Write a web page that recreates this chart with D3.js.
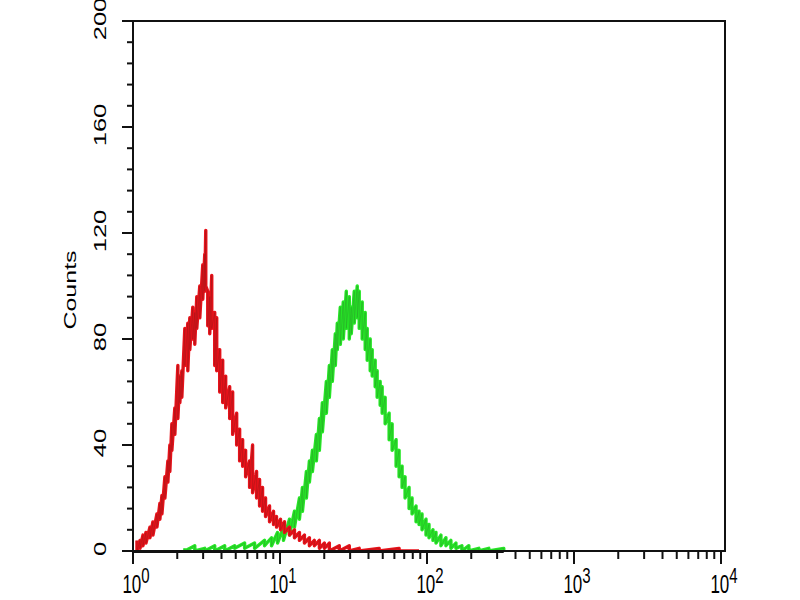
<!DOCTYPE html>
<html>
<head>
<meta charset="utf-8">
<script src="https://cdn.jsdelivr.net/npm/d3@7"></script>
<style>
  body { margin: 0; background: #fff; }
  text { font-family: "Liberation Sans", Arial, sans-serif; fill: #000; }
</style>
</head>
<body>
<div id="root"></div>
<script>
// fluorescence channel (log axis) and the low / high edge of the noisy trace at that channel
var redX = [1.064, 1.116, 1.169, 1.225, 1.304, 1.366, 1.455, 1.524, 1.573, 1.648,
            1.727, 1.781, 1.838, 1.926, 2.019, 2.083, 2.149, 2.252, 2.360, 2.435,
            2.551, 2.632, 2.716, 2.846, 2.983, 3.077, 3.126, 3.225, 3.327, 3.433,
            3.597, 3.711, 3.889, 4.076, 4.271, 4.546, 4.764, 5.072, 5.314, 5.569,
            5.836, 6.212, 6.510, 6.929, 7.261, 7.609, 7.974, 8.488, 9.035, 9.469,
            10.08, 10.73, 11.60, 12.54, 13.56, 14.66, 15.85, 17.13, 18.53, 20.03,
            21.66, 25.32, 29.60, 34.59, 47.28, 64.60, 88.28];
var redLo = [0, 1, 2, 3, 5, 6, 9, 12, 14, 20,
             26, 30, 38, 44, 50, 56, 58, 70, 68, 76,
             80, 78, 84, 88, 95, 98, 100, 85, 82, 84,
             70, 68, 60, 56, 54, 50, 44, 40, 34, 32,
             28, 24, 22, 20, 17, 15, 13, 11, 10, 9,
             8, 7, 6, 5, 4, 3, 2, 2, 1, 1,
             0, 0, 0, 0, 0, 0, 0];
var redHi = [4, 4, 6, 7, 9, 11, 14, 18, 21, 28,
             34, 40, 48, 54, 70, 66, 68, 84, 86, 88,
             92, 90, 96, 100, 108, 112, 121, 98, 96, 104,
             90, 88, 76, 72, 66, 62, 60, 52, 46, 42,
             38, 34, 40, 30, 27, 24, 20, 17, 15, 13,
             12, 11, 9, 8, 7, 6, 5, 4, 4, 3,
             3, 2, 2, 1, 1, 1, 0];

var greenX = [2.252, 2.632, 3.077, 3.597, 4.205, 4.916, 5.745, 6.716, 7.850, 8.757,
              9.618, 10.56, 11.60, 12.54, 13.56, 14.21, 15.12, 15.85, 16.61, 17.68,
              18.53, 19.42, 20.67, 21.66, 22.70, 23.79, 24.54, 25.72, 26.95, 28.24,
              29.60, 30.53, 32.00, 33.53, 34.59, 36.25, 37.99, 39.20, 41.08, 42.38,
              44.41, 45.81, 48.02, 49.54, 51.92, 55.26, 57.91, 61.63, 64.60, 67.70,
              70.94, 75.51, 79.13, 84.22, 88.28, 92.50, 98.45, 103.2, 109.8, 115.1,
              124.4, 134.5, 145.4, 157.3, 172.7, 192.6, 225.2, 263.3, 332.7];
var greenLo = [0, 0, 0, 0, 0, 1, 1, 1, 2, 2,
               3, 4, 6, 9, 12, 15, 20, 26, 30, 34,
               38, 45, 52, 58, 64, 70, 76, 78, 80, 84,
               80, 82, 86, 88, 84, 80, 76, 72, 68, 66,
               62, 58, 55, 52, 48, 42, 38, 32, 28, 24,
               20, 16, 14, 11, 10, 8, 6, 5, 4, 3,
               2, 2, 1, 1, 0, 0, 0, 0, 0];
var greenHi = [1, 2, 1, 2, 2, 2, 3, 3, 4, 5,
               7, 9, 12, 15, 20, 24, 30, 34, 38, 44,
               50, 56, 64, 70, 76, 82, 86, 92, 94, 98,
               96, 92, 98, 100, 98, 94, 90, 84, 80, 76,
               72, 68, 64, 62, 58, 52, 48, 42, 38, 32,
               28, 24, 20, 17, 15, 14, 12, 10, 8, 7,
               6, 5, 4, 3, 2, 2, 1, 1, 1];

var yLabels = [0, 40, 80, 120, 160, 200];
var xDecades = [1, 10, 100, 1000, 10000];
var xExponents = ['0', '1', '2', '3', '4'];

var w = 800, h = 600;
var stretch = 1.5; // text in the picture is drawn taller than wide

var x = d3.scaleLog().domain([1, 10000]).range([133, 721]);
var y = d3.scaleLinear().domain([0, 200]).range([551, 21]);

var svg = d3.select('#root').append('svg')
  .attr('width', w)
  .attr('height', h);

// trace: vertical stroke from high to low at every channel, like the dense histogram
function trace(xs, lo, hi) {
  var pts = [];
  xs.forEach(function(v, i) {
    pts.push([v, hi[i]]);
    pts.push([v, lo[i]]);
  });
  return d3.line()
    .x(function(d) { return x(d[0]); })
    .y(function(d) { return y(d[1]); })(pts);
}

function drawTrace(xs, lo, hi, colour, dark) {
  var d = trace(xs, lo, hi);
  svg.append('path')
    .attr('d', d)
    .attr('fill', 'none')
    .attr('stroke', colour)
    .attr('stroke-width', 3.4)
    .attr('stroke-linejoin', 'round');
  svg.append('path')
    .attr('d', d)
    .attr('fill', 'none')
    .attr('stroke', dark)
    .attr('stroke-opacity', 0.45)
    .attr('stroke-width', 0.8);
}

drawTrace(greenX, greenLo, greenHi, '#26e626', '#2a8a2a');
drawTrace(redX, redLo, redHi, '#e8121a', '#8a1a1a');

// frame
var x0 = x(1), x1 = x(10000) + 4, y0 = y(0), y1 = y(200);
svg.append('rect')
  .attr('x', x0).attr('y', y1)
  .attr('width', x1 - x0).attr('height', y0 - y1)
  .attr('fill', 'none')
  .attr('stroke', '#111')
  .attr('stroke-width', 2);

// heavy baseline where the traces sit on zero
svg.append('line')
  .attr('x1', x0).attr('x2', x(d3.max(greenX)))
  .attr('y1', y0 + 0.5).attr('y2', y0 + 0.5)
  .attr('stroke', '#111')
  .attr('stroke-width', 3);

// y ticks every 8 counts, longer at the labels
svg.selectAll('line.y-tick')
  .data(d3.range(0, 201, 8)).enter()
  .append('line')
  .attr('class', 'y-tick')
  .attr('x1', function(d) { return x0 - (d % 40 === 0 ? 11 : 6); })
  .attr('x2', x0)
  .attr('y1', function(d) { return y(d); })
  .attr('y2', function(d) { return y(d); })
  .attr('stroke', '#111')
  .attr('stroke-width', 2);

svg.selectAll('text.y-label')
  .data(yLabels).enter()
  .append('text')
  .attr('class', 'y-label')
  .attr('text-anchor', 'middle')
  .attr('transform', function(d) {
    return 'translate(106,' + (y(d) - 2) + ') scale(1,' + stretch + ') rotate(-90)';
  })
  .style('font-size', '17px')
  .text(function(d) { return d; });

svg.append('text')
  .attr('text-anchor', 'middle')
  .attr('transform', 'translate(76,290) scale(1,1.47) rotate(-90)')
  .style('font-size', '17px')
  .text('Counts');

// x ticks: decades plus 2..9 minors
var minors = [];
xDecades.slice(0, 4).forEach(function(d) {
  for (var k = 2; k <= 9; k++) minors.push(d * k);
});

svg.selectAll('line.x-minor')
  .data(minors).enter()
  .append('line')
  .attr('class', 'x-minor')
  .attr('x1', function(d) { return x(d); })
  .attr('x2', function(d) { return x(d); })
  .attr('y1', y0)
  .attr('y2', y0 + 8)
  .attr('stroke', '#111')
  .attr('stroke-width', 2);

svg.selectAll('line.x-major')
  .data(xDecades).enter()
  .append('line')
  .attr('class', 'x-major')
  .attr('x1', function(d) { return x(d); })
  .attr('x2', function(d) { return x(d); })
  .attr('y1', y0)
  .attr('y2', y0 + 13)
  .attr('stroke', '#111')
  .attr('stroke-width', 2);

var xl = svg.selectAll('text.x-label')
  .data(xDecades).enter()
  .append('text')
  .attr('class', 'x-label')
  .attr('text-anchor', 'middle')
  .attr('transform', function(d) {
    return 'translate(' + (x(d) + 3) + ',593) scale(1,' + stretch + ')';
  })
  .style('font-size', '17px');

xl.append('tspan').text('10');
xl.append('tspan')
  .attr('dy', -7)
  .style('font-size', '15px')
  .text(function(d, i) { return xExponents[i]; });
</script>
</body>
</html>
